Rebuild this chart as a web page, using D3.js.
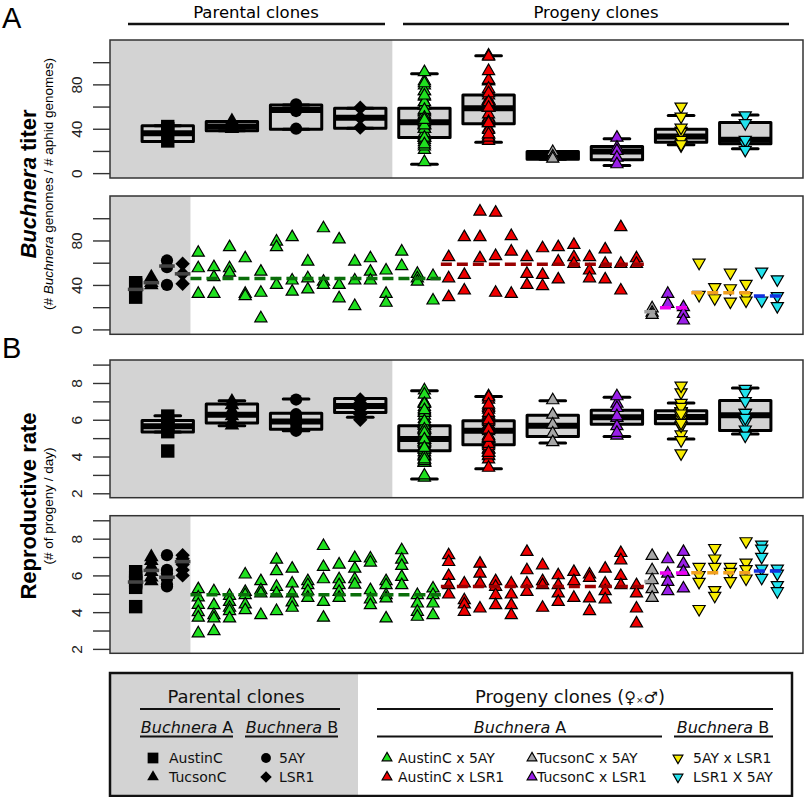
<!DOCTYPE html>
<html>
<head>
<meta charset="utf-8">
<script src="https://cdn.jsdelivr.net/npm/d3@7"></script>
<style>
  body { margin: 0; background: #fff; }
  text { font-family: "Liberation Sans", Arial, sans-serif; }
  .dv { font-family: "DejaVu Sans", sans-serif; }
</style>
</head>
<body>
<svg id="fig" width="805" height="797"></svg>
<script>
// groups: 4 parental clones then 6 crosses
const groupNames = ["AustinC", "TucsonC", "5AY", "LSR1",
  "AustinC x 5AY", "AustinC x LSR1", "TucsonC x 5AY", "TucsonC x LSR1", "5AY x LSR1", "LSR1 X 5AY"];
const groupShape = ["square", "triangle", "circle", "diamond", "up", "up", "up", "up", "down", "down"];
const groupFill = ["#000", "#000", "#000", "#000", "#1fe01f", "#f00000", "#a6a6a6", "#9a1fe8", "#f8ec00", "#22e3ee"];
const medianColor = ["#444", "#444", "#444", "#444", "#0a6e0a", "#990000", "#a0a0a0", "#ee00ee", "#f0a020", "#1030e0"];

// Buchnera titer, one inner array per clone
const titerAustinC = [[42, 40, 29]];
const titerTucsonC = [[47, 42, 40]];
const titer5AY = [[62, 56, 40]];
const titerLSR1 = [[59, 50, 41]];
const titerAx5 = [[69, 55, 32], [56, 47, 32], [74, 55, 51], [64, 32, 30], [52, 33, 10], [79, 74, 40],
  [83, 44, 34], [61, 46, 36], [91, 43, 40], [81, 40, 28], [61, 44, 21], [64, 52, 44], [53, 32, 24],
  [70, 57], [50, 46, 43], [48, 26]];
const titerAxL = [[65, 46, 29], [83, 49, 35], [106, 83, 64], [105, 66, 33], [84, 70, 32], [65, 50, 40],
  [73, 49, 39], [74, 61, 45], [76, 65, 59], [65, 53, 46], [72, 59, 45], [92, 59, 35], [64, 59]];
const titerTx5 = [[19, 15, 13]];
const titerTxL = [[32, 23], [20, 14, 8]];
const titer5xL = [[60, 31], [38, 28], [51, 37, 25], [41, 30, 26]];
const titerLx5 = [[52, 26], [45, 30, 21]];

// reproductive rate, one inner array per clone
const rateAustinC = [[6.2, 5.9, 5.7, 5.6, 5.35, 4.3]];
const rateTucsonC = [[7.0, 6.8, 6.5, 6.2, 5.9, 5.7]];
const rate5AY = [[7.1, 6.3, 6.1, 5.8, 5.5, 5.4]];
const rateLSR1 = [[7.1, 6.9, 6.7, 6.6, 6.3, 6.0]];
const rateAx5 = [[5.25, 4.8, 4.4, 4.0, 3.7, 2.85], [5.14, 4.38, 3.84, 3.66, 2.97], [4.89, 4.56, 4.24, 4.06, 3.66],
  [6.05, 5.1, 4.93, 4.42, 4.11], [5.69, 5.2, 5.02, 3.84], [6.86, 6.23, 5.38, 5.02, 4.06],
  [6.37, 5.56, 5.02, 4.53, 4.24], [5.69, 5.47, 5.14, 4.78], [7.6, 6.46, 5.79, 4.56, 3.7],
  [6.59, 5.79, 5.47, 5.1, 4.78], [6.95, 6.37, 5.79, 5.5], [6.92, 6.7, 5.2, 4.69, 4.38],
  [5.69, 5.47, 4.93, 4.75, 3.66], [7.37, 6.86, 6.52, 5.92, 5.47], [4.93, 4.47, 4.02, 3.75],
  [5.29, 4.93, 4.47, 3.84]];
const rateAxL = [[7.1, 6.73, 5.97, 5.47, 4.96], [5.56, 4.65, 4.42, 4.02], [6.64, 6.1, 5.56, 4.2],
  [5.69, 5.38, 4.93, 4.38], [5.56, 4.96, 4.38, 3.84], [7.28, 6.28, 5.56, 5.1], [6.55, 5.69, 5.47, 4.24],
  [6.01, 5.47, 5.02, 4.56], [6.19, 5.69, 4.78], [6.05, 5.87, 4.75, 4.06], [6.37, 5.56, 5.14, 4.69],
  [7.22, 6.82, 5.97, 5.47], [5.47, 5.02, 4.2, 3.39]];
const rateTx5 = [[7.06, 6.28, 5.74, 5.25, 4.78]];
const rateTxL = [[6.88, 6.1, 5.65, 5.14], [7.28, 6.64, 6.19, 5.29]];
const rate5xL = [[6.46, 6.01, 5.65, 4.17], [7.49, 6.92, 6.46, 5.2, 4.89], [6.46, 6.19, 5.69], [7.86, 6.7, 6.34, 5.83]];
const rateLx5 = [[7.68, 7.46, 7.01, 6.37, 5.87], [6.37, 6.1, 5.47, 5.14]];

// box stats [low whisker, q1, median, q3, high whisker]
const titerBoxes = [[28.5, 28.5, 36, 42.6, 42.6], [38.1, 38.1, 42, 46.5, 46.5], [39.6, 39.6, 57, 61.5, 61.5],
  [40.5, 40.5, 50, 58.5, 58.5], [8.1, 32.1, 45.9, 58.5, 89.5], [27.9, 44.4, 58.5, 70.5, 105.7],
  [12.6, 12.6, 15.9, 19.5, 19.5], [6.8, 12, 19.5, 24, 30.9], [25.5, 27.9, 33, 39.6, 51.9],
  [21.9, 26.4, 30, 45.6, 52.5]];
const rateBoxes = [[5.33, 5.33, 5.64, 5.96, 6.22], [5.67, 5.82, 6.27, 6.86, 7.04], [5.4, 5.49, 5.9, 6.36, 7.13],
  [6.13, 6.4, 6.75, 7.15, 7.15], [2.78, 4.31, 4.95, 5.67, 7.58], [3.33, 4.64, 5.4, 5.95, 7.27],
  [4.73, 5.09, 5.67, 6.24, 7.04], [5.09, 5.76, 6.13, 6.51, 7.22], [4.95, 5.78, 6.15, 6.49, 6.91],
  [5.22, 5.42, 6.24, 7.05, 7.73]];

const titerTicks = [0, 20, 40, 60, 80, 100];
const titerLabels = [0, 40, 80];
const rateTicks = [2, 3, 4, 5, 6, 7, 8, 9];
const rateLabels = [2, 4, 6, 8];

const titerGroups = [titerAustinC, titerTucsonC, titer5AY, titerLSR1, titerAx5, titerAxL, titerTx5, titerTxL, titer5xL, titerLx5];
const rateGroups = [rateAustinC, rateTucsonC, rate5AY, rateLSR1, rateAx5, rateAxL, rateTx5, rateTxL, rate5xL, rateLx5];

// layout
const svg = d3.select("#fig");
const plotL = 110, plotR = 803;
const xTop = d3.scaleLinear().domain([0.1, 10.9]).range([plotL, plotR]);
const nClones = d3.sum(titerGroups, g => g.length);
const xBot = d3.scaleLinear().domain([1 - (nClones - 1) * 0.04, nClones + (nClones - 1) * 0.04]).range([plotL, plotR]);
const boxW = xTop(0.8) - xTop(0);

const symbolPath = {
  square: d3.symbol(d3.symbolSquare, 180)(),
  triangle: d3.symbol(d3.symbolTriangle, 92)(),
  circle: d3.symbol(d3.symbolCircle, 118)(),
  diamond: d3.symbol(d3.symbolSquare, 104)(),
  up: d3.symbol(d3.symbolTriangle, 64)(),
  down: d3.symbol(d3.symbolTriangle, 64)()
};
const symbolRot = { square: 0, triangle: 0, circle: 0, diamond: 45, up: 0, down: 180 };

function marker(g, shape, x, y, fill, k) {
  const p = g.append("path")
    .attr("d", symbolPath[shape])
    .attr("transform", `translate(${x},${y}) rotate(${symbolRot[shape]}) scale(${k || 1})`)
    .attr("fill", fill);
  if (shape === "up" || shape === "down") p.attr("stroke", "#000").attr("stroke-width", 1.2 / (k || 1));
  return p;
}

function frame(top, bottom, x) {
  const g = svg.append("g");
  g.append("rect").attr("x", plotL).attr("y", top).attr("width", plotR - plotL).attr("height", bottom - top).attr("fill", "#fff");
  g.append("rect").attr("x", plotL).attr("y", top).attr("width", x(4.5) - plotL).attr("height", bottom - top).attr("fill", "#d3d3d3");
  return g;
}

function border(top, bottom) {
  svg.append("rect").attr("x", plotL).attr("y", top).attr("width", plotR - plotL).attr("height", bottom - top)
    .attr("fill", "none").attr("stroke", "#333").attr("stroke-width", 1.5);
}

function yAxis(y, ticks, labels) {
  const ax = svg.append("g").attr("transform", `translate(${plotL},0)`)
    .call(d3.axisLeft(y).tickValues(ticks).tickSize(17).tickSizeOuter(0)
      .tickFormat(d => labels.includes(d) ? d : ""));
  ax.select(".domain").remove();
  ax.selectAll(".tick line").attr("stroke", "#333").attr("stroke-width", 1.4);
  ax.selectAll(".tick text").attr("x", null).attr("dy", null).attr("text-anchor", "middle")
    .attr("transform", "translate(-28,0) rotate(-90)")
    .attr("font-size", 15.5).attr("fill", "#222")
    .attr("font-family", "'Liberation Sans', Arial, sans-serif");
}

function boxPanel(top, bottom, y, groups, boxes, ticks, labels) {
  const g = frame(top, bottom, xTop);
  boxes.forEach((b, i) => {
    const cx = xTop(i + 1);
    g.append("rect").attr("x", cx - boxW / 2).attr("y", y(b[3])).attr("width", boxW)
      .attr("height", y(b[1]) - y(b[3])).attr("fill", "#d3d3d3")
      .attr("stroke", "#000").attr("stroke-width", 3).attr("stroke-linejoin", "round");
    g.append("line").attr("x1", cx - boxW / 2).attr("x2", cx + boxW / 2)
      .attr("y1", y(b[2])).attr("y2", y(b[2])).attr("stroke", "#000").attr("stroke-width", 6);
    [b[0], b[4]].forEach(v => {
      g.append("line").attr("x1", cx - boxW / 4).attr("x2", cx + boxW / 4)
        .attr("y1", y(v)).attr("y2", y(v)).attr("stroke", "#000").attr("stroke-width", 3)
        .attr("stroke-linecap", "round");
    });
  });
  groups.forEach((clones, i) => {
    clones.flat().forEach(v => marker(g, groupShape[i], xTop(i + 1), y(v), groupFill[i]));
  });
  border(top, bottom);
  yAxis(y, ticks, labels);
}

function clonePanel(top, bottom, y, groups, boxes, ticks, labels) {
  const g = frame(top, bottom, xBot);
  let pos = 1;
  const spans = [];
  groups.forEach((clones, i) => {
    const first = pos;
    clones.forEach(c => {
      c.forEach(v => marker(g, groupShape[i], xBot(pos), y(v), groupFill[i]));
      pos++;
    });
    spans.push([first, pos - 1]);
  });
  spans.forEach((s, i) => {
    const m = boxes[i][2];
    g.append("line").attr("x1", xBot(s[0] - 0.5)).attr("x2", xBot(s[1] + 0.5))
      .attr("y1", y(m)).attr("y2", y(m))
      .attr("stroke", medianColor[i]).attr("stroke-width", 3.5)
      .attr("stroke-dasharray", i < 4 ? null : "11 5");
  });
  border(top, bottom);
  yAxis(y, ticks, labels);
}

const yA1 = d3.scaleLinear().domain([-4.4, 120]).range([178, 40]);
const yA2 = d3.scaleLinear().domain([-4.4, 120]).range([334.3, 196]);
const yB1 = d3.scaleLinear().domain([1.76, 9.25]).range([497.7, 360]);
const yB2 = d3.scaleLinear().domain([1.76, 9.25]).range([653.3, 515.7]);

boxPanel(40, 178, yA1, titerGroups, titerBoxes, titerTicks, titerLabels);
clonePanel(196, 334.3, yA2, titerGroups, titerBoxes, titerTicks, titerLabels);
boxPanel(360, 497.7, yB1, rateGroups, rateBoxes, rateTicks, rateLabels);
clonePanel(515.7, 653.3, yB2, rateGroups, rateBoxes, rateTicks, rateLabels);

// panel letters
svg.append("text").attr("x", 2).attr("y", 28).attr("font-size", 29).text("A");
svg.append("text").attr("x", 2).attr("y", 358).attr("font-size", 29).text("B");

// header
svg.append("text").attr("class", "dv").attr("x", 256).attr("y", 18).attr("text-anchor", "middle")
  .attr("font-size", 16.5).text("Parental clones");
svg.append("line").attr("x1", 128).attr("x2", 385).attr("y1", 24).attr("y2", 24).attr("stroke", "#111").attr("stroke-width", 2.5);
svg.append("text").attr("class", "dv").attr("x", 596).attr("y", 18).attr("text-anchor", "middle")
  .attr("font-size", 16.5).text("Progeny clones");
svg.append("line").attr("x1", 403).attr("x2", 789).attr("y1", 24).attr("y2", 24).attr("stroke", "#111").attr("stroke-width", 2.5);

// y titles
function yTitle(cy, parts, sub) {
  const t = svg.append("text").attr("transform", `translate(36,${cy}) rotate(-90)`)
    .attr("text-anchor", "middle").attr("font-size", 22).attr("font-weight", "bold");
  parts.forEach(p => t.append("tspan").attr("font-style", p[1] ? "italic" : null).text(p[0]));
  const s = svg.append("text").attr("transform", `translate(53,${cy}) rotate(-90)`)
    .attr("text-anchor", "middle").attr("font-size", 13.5);
  sub.forEach(p => s.append("tspan").attr("font-style", p[1] ? "italic" : null).text(p[0]));
}
yTitle(184, [["Buchnera", 1], [" titer", 0]], [["(# ", 0], ["Buchnera", 1], [" genomes / # aphid genomes)", 0]]);
yTitle(506, [["Reproductive rate", 0]], [["(# of progeny / day)", 0]]);

// legend
const lg = svg.append("g");
lg.append("rect").attr("x", 110).attr("y", 673).attr("width", 248).attr("height", 123).attr("fill", "#d3d3d3");
lg.append("rect").attr("x", 110).attr("y", 673).attr("width", 682).attr("height", 123)
  .attr("fill", "none").attr("stroke", "#111").attr("stroke-width", 2.5);

function ltext(x, y, size, parts, anchor) {
  const t = lg.append("text").attr("class", "dv").attr("x", x).attr("y", y).attr("font-size", size)
    .attr("text-anchor", anchor || "start").attr("fill", "#111");
  parts.forEach(p => t.append("tspan").attr("font-style", p[1] ? "italic" : null).text(p[0]));
}
function uline(x1, x2, y) {
  lg.append("line").attr("x1", x1).attr("x2", x2).attr("y1", y).attr("y2", y).attr("stroke", "#111").attr("stroke-width", 1.8);
}
ltext(236, 703, 18, [["Parental clones", 0]], "middle");
uline(140, 340, 709);
ltext(187, 733, 16, [["Buchnera", 1], [" A", 0]], "middle");
uline(140, 233, 736.5);
ltext(292, 733, 16, [["Buchnera", 1], [" B", 0]], "middle");
uline(245, 338, 736.5);

const pt = lg.append("text").attr("class", "dv").attr("x", 475).attr("y", 703).attr("font-size", 18).attr("fill", "#111");
pt.append("tspan").text("Progeny clones  (");
pt.append("tspan").attr("font-size", 16).text("\u2640");
pt.append("tspan").attr("font-size", 9).text("\u00d7");
pt.append("tspan").attr("font-size", 16).text("\u2642");
pt.append("tspan").text(")");
uline(377, 773, 709);
ltext(520, 733, 16, [["Buchnera", 1], [" A", 0]], "middle");
uline(377, 662, 736.5);
ltext(723, 733, 16, [["Buchnera", 1], [" B", 0]], "middle");
uline(674, 773, 736.5);

const legendX = [153, 153, 266, 266, 387, 387, 532, 532, 678, 678];
const legendTextX = [169, 169, 279, 279, 398, 398, 537, 537, 693, 693];
groupNames.forEach((name, i) => {
  const row = i % 2;
  marker(lg, groupShape[i], legendX[i], 758 + row * 19, groupFill[i], 0.8);
  ltext(legendTextX[i], 763 + row * 19, 14, [[name, 0]]);
});
</script>
</body>
</html>
